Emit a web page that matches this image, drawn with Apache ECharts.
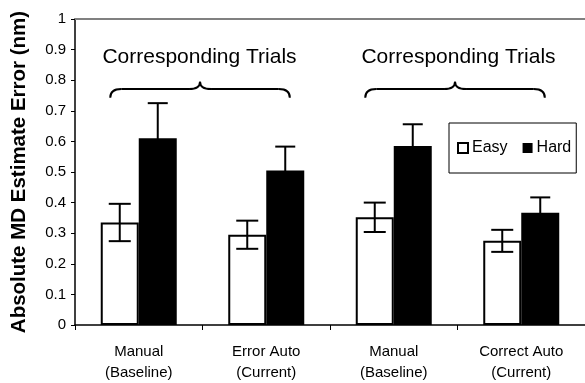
<!DOCTYPE html>
<html>
<head>
<meta charset="utf-8">
<script src="https://cdn.jsdelivr.net/npm/echarts@6/dist/echarts.min.js"></script>
<style>html,body{margin:0;padding:0;background:#fff;}#c{width:585px;height:383px;}</style>
</head>
<body>
<div id="c"></div>
<script>
const categories = ['Manual\n(Baseline)', 'Error Auto\n(Current)', 'Manual\n(Baseline)', 'Correct Auto\n(Current)'];
const easyMeans = [0.335, 0.295, 0.352, 0.275];
const easyErr = [0.061, 0.046, 0.048, 0.036];
const hardMeans = [0.610, 0.505, 0.585, 0.367];
const hardErr = [0.115, 0.078, 0.071, 0.050];
const yTickLabels = ['0', '0.1', '0.2', '0.3', '0.4', '0.5', '0.6', '0.7', '0.8', '0.9', '1'];
const groupLabels = ['Corresponding Trials', 'Corresponding Trials'];
const groupRanges = [[0, 1], [2, 3]];

const FONT = '"Liberation Sans", Arial, sans-serif';
const BAR_W = 38;

function errorSeries(name, means, errs, offset, capHalf) {
  return {
    type: 'custom',
    name: name,
    z: 10,
    data: means.map((m, i) => [i, m, errs[i]]),
    encode: { x: 0, y: 1 },
    renderItem: function (params, api) {
      const i = api.value(0), m = api.value(1), e = api.value(2);
      const hi = api.coord([i, m + e]);
      const lo = api.coord([i, m - e]);
      const x = hi[0] + offset;
      const st = { stroke: '#000', lineWidth: 2 };
      return {
        type: 'group',
        children: [
          { type: 'line', shape: { x1: x, y1: hi[1], x2: x, y2: lo[1] }, style: st },
          { type: 'line', shape: { x1: x - capHalf, y1: hi[1], x2: x + capHalf, y2: hi[1] }, style: st },
          { type: 'line', shape: { x1: x - capHalf, y1: lo[1], x2: x + capHalf, y2: lo[1] }, style: st }
        ]
      };
    }
  };
}

const chart = echarts.init(document.getElementById('c'), null, { renderer: 'canvas' });
chart.setOption({
  animation: false,
  backgroundColor: '#fff',
  textStyle: { fontFamily: FONT },
  grid: { left: 75, right: 0, top: 19, bottom: 57 },
  legend: {
    data: [
      { name: 'Easy', itemStyle: { color: '#fff', borderColor: '#000', borderWidth: 2 } },
      { name: 'Hard', itemStyle: { color: '#000', borderColor: '#000', borderWidth: 0 } }
    ],
    left: 449, top: 123,
    orient: 'horizontal',
    icon: 'rect',
    itemWidth: 10, itemHeight: 10,
    itemGap: 15,
    padding: [17, 5, 17, 8],
    borderColor: '#000', borderWidth: 1,
    textStyle: { fontFamily: FONT, fontSize: 16, color: '#000', padding: [0, 0, 0, -1] },
    selectedMode: false
  },
  xAxis: [{
    type: 'category',
    data: categories,
    axisLine: { lineStyle: { color: '#000', width: 1.5 } },
    axisTick: { show: true, length: 5, lineStyle: { color: '#000', width: 1 } },
    axisLabel: { color: '#000', fontFamily: FONT, fontSize: 15, lineHeight: 21, margin: 16 }
  }, {
    type: 'category',
    position: 'top',
    data: categories,
    axisLine: { lineStyle: { color: '#808080', width: 2 } },
    axisTick: { show: false },
    axisLabel: { show: false }
  }],
  yAxis: {
    type: 'value',
    min: 0, max: 1, interval: 0.1,
    name: 'Absolute MD Estimate Error (nm)',
    nameLocation: 'middle',
    nameRotate: 90,
    nameGap: 45,
    nameTextStyle: { fontFamily: FONT, fontSize: 20.5, fontWeight: 'bold', color: '#000' },
    axisLine: { show: true, lineStyle: { color: '#000', width: 1.5 } },
    axisTick: { show: true, inside: false, length: 4, lineStyle: { color: '#000' } },
    splitLine: { show: false },
    axisLabel: {
      color: '#000', fontFamily: FONT, fontSize: 15, margin: 9,
      formatter: function (v) { return yTickLabels[Math.round(v * 10)]; }
    }
  },
  series: [
    { name: 'Easy', type: 'bar', data: easyMeans, barWidth: BAR_W, barGap: '0%',
      itemStyle: { color: '#fff', borderColor: '#000', borderWidth: 2 } },
    { name: 'Hard', type: 'bar', data: hardMeans, barWidth: BAR_W, barGap: '0%',
      itemStyle: { color: '#000', borderColor: '#000', borderWidth: 0 } },
    errorSeries('EasyErr', easyMeans, easyErr, -BAR_W / 2, 11),
    errorSeries('HardErr', hardMeans, hardErr, BAR_W / 2, 10)
  ]
});

// Annotation braces + labels positioned via the chart's own scales
const graphics = [];
groupRanges.forEach(function (rg, g) {
  const cA = chart.convertToPixel({ xAxisIndex: 0 }, rg[0]);
  const cB = chart.convertToPixel({ xAxisIndex: 0 }, rg[1]);
  const yE = chart.convertToPixel({ yAxisIndex: 0 }, 0.743);
  const yH = chart.convertToPixel({ yAxisIndex: 0 }, 0.771);
  const yT = chart.convertToPixel({ yAxisIndex: 0 }, 0.795);
  const yTxt = chart.convertToPixel({ yAxisIndex: 0 }, 0.876);
  const xL = cA - 0.75 * BAR_W, xR = cB + 0.62 * BAR_W;
  const xm = (xL + xR) / 2;
  const r = 11;
  const st = { fill: null, stroke: '#000', lineWidth: 2 };
  const curve = (x1, y1, cx, cy, x2, y2) => ({
    type: 'bezierCurve', z: 20,
    shape: { x1: x1, y1: y1, cpx1: cx, cpy1: cy, x2: x2, y2: y2 },
    style: st
  });
  const seg = (x1, y1, x2, y2) => ({
    type: 'line', z: 20, shape: { x1: x1, y1: y1, x2: x2, y2: y2 }, style: st
  });
  graphics.push(curve(xL, yE, xL, yH, xL + r, yH));
  graphics.push(seg(xL + r, yH, xm - r, yH));
  graphics.push(curve(xm - r, yH, xm, yH, xm, yT));
  graphics.push(curve(xm, yT, xm, yH, xm + r, yH));
  graphics.push(seg(xm + r, yH, xR - r, yH));
  graphics.push(curve(xR - r, yH, xR, yH, xR, yE));
  graphics.push({
    type: 'text', z: 20,
    x: (cA + cB) / 2 + (g === 0 ? -3 : 1), y: yTxt,
    style: { text: groupLabels[g], font: '21px ' + FONT, fill: '#000', align: 'center', verticalAlign: 'middle' }
  });
});
chart.setOption({ graphic: graphics });
</script>
</body>
</html>
